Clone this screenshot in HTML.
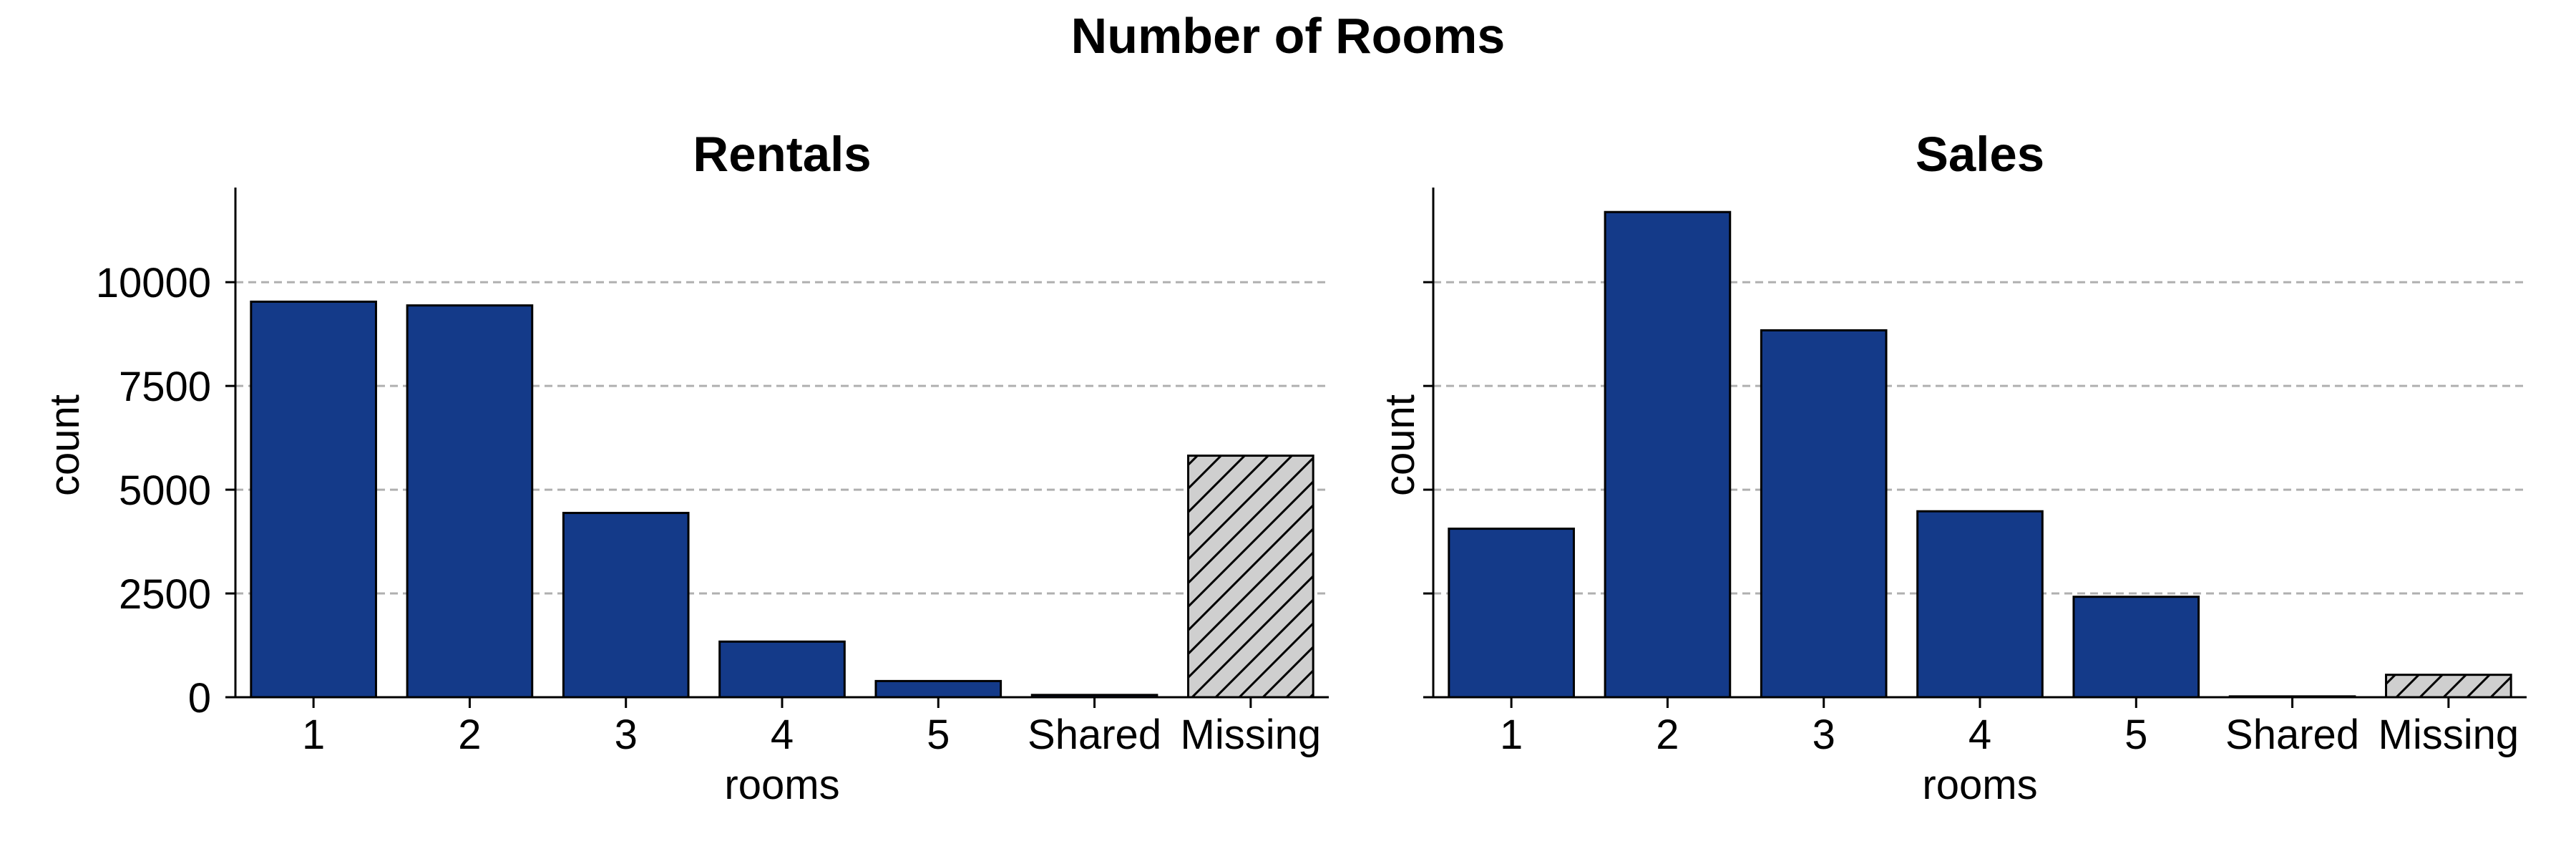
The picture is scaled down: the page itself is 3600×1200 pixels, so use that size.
<!DOCTYPE html>
<html><head><meta charset="utf-8">
<style>
html,body{margin:0;padding:0;background:#fff;}
svg{display:block;font-family:"Liberation Sans",Arial,sans-serif;}
</style></head>
<body>
<svg id="chart" width="3600" height="1200" viewBox="0 0 3600 1200" xmlns="http://www.w3.org/2000/svg">
<defs>
<pattern id="hatch" patternUnits="userSpaceOnUse" width="33" height="33">
<rect width="33" height="33" fill="#cfcfcf"/>
<path d="M-8,41 L41,-8 M-8,8 L8,-8 M25,41 L41,25" stroke="#000" stroke-width="3"/>
</pattern>
</defs>
<text x="1800" y="74" text-anchor="middle" font-size="70" font-weight="bold">Number of Rooms</text>
</svg>
<script>
const categories = ["1","2","3","4","5","Shared","Missing"];
const rentalsValues = [9530, 9440, 4440, 1340, 390, 55, 5820];
const salesValues = [4060, 11690, 8840, 4480, 2420, 20, 540];
const yTicks = [0, 2500, 5000, 7500, 10000];
const yTickLabels = ["0","2500","5000","7500","10000"];
const yMax = 12280;

const NS = "http://www.w3.org/2000/svg";
const svg = document.getElementById('chart');
const top0 = 262, base = 974, axW = 1528;

function mk(tag, attrs, parent){
  const e = document.createElementNS(NS, tag);
  for (const k in attrs) e.setAttribute(k, attrs[k]);
  (parent||svg).appendChild(e);
  return e;
}
function yScale(v){ return base - (v / yMax) * (base - top0); }

function panel(x0, title, values, key, showLabels){
  const g = mk('g', {});
  
  
  const band = axW / categories.length;
  const xScale = i => x0 + band * (i + 0.5);
  // gridlines
  yTicks.forEach((t, i) => {
    if (t === 0) return;
    const gl = mk('line', {x1:x0, x2:x0+axW, y1:yScale(t), y2:yScale(t), stroke:'#b0b0b0', 'stroke-width':3, 'stroke-dasharray':'11 7'}, g);
    
    
  });
  // bars
  values.forEach((v, i) => {
    const w = band * 0.8;
    const missing = categories[i] === 'Missing';
    const r = mk('rect', {x:xScale(i)-w/2, y:yScale(v), width:w, height:base-yScale(v),
      fill: missing ? 'url(#hatch)' : '#143a89', stroke:'#000', 'stroke-width':3}, g);
    
    
  });
  // spines
  const ys = mk('line', {x1:x0, x2:x0, y1:top0, y2:base+1.5, stroke:'#000', 'stroke-width':3}, g);
  
  
  const xs = mk('line', {x1:x0-1.5, x2:x0+axW, y1:base, y2:base, stroke:'#000', 'stroke-width':3}, g);
  
  
  // y ticks
  yTicks.forEach((t, i) => {
    const tk = mk('line', {x1:x0-14, x2:x0, y1:yScale(t), y2:yScale(t), stroke:'#000', 'stroke-width':3}, g);
    
    
    if (showLabels){
      const tl = mk('text', {x:x0-34, y:yScale(t)+21, 'text-anchor':'end', 'font-size':58}, g);
      tl.textContent = yTickLabels[i];
      
      
    }
  });
  // x ticks
  categories.forEach((c, i) => {
    const tk = mk('line', {x1:xScale(i), x2:xScale(i), y1:base, y2:base+15, stroke:'#000', 'stroke-width':3}, g);
    
    
    const tl = mk('text', {x:xScale(i), y:1046, 'text-anchor':'middle', 'font-size':58}, g);
    tl.textContent = c;
    
    
  });
  const xl = mk('text', {x:x0+axW/2, y:1116, 'text-anchor':'middle', 'font-size':58}, g);
  xl.textContent = 'rooms';
  
  
  const ylx = showLabels ? 90 : x0 - 47;
  const yl = mk('text', {x:ylx, y:622, 'text-anchor':'middle', 'font-size':58, transform:'rotate(-90 '+(ylx)+' 622) translate(0 20)'}, g);
  yl.textContent = 'count';
  
  
  const tt = mk('text', {x:x0+axW/2, y:239, 'text-anchor':'middle', 'font-size':69, 'font-weight':'bold'}, g);
  tt.textContent = title;
  
  
}
panel(329, 'Rentals', rentalsValues, 'rentals', true);
panel(2003, 'Sales', salesValues, 'sales', false);
</script>
</body></html>
